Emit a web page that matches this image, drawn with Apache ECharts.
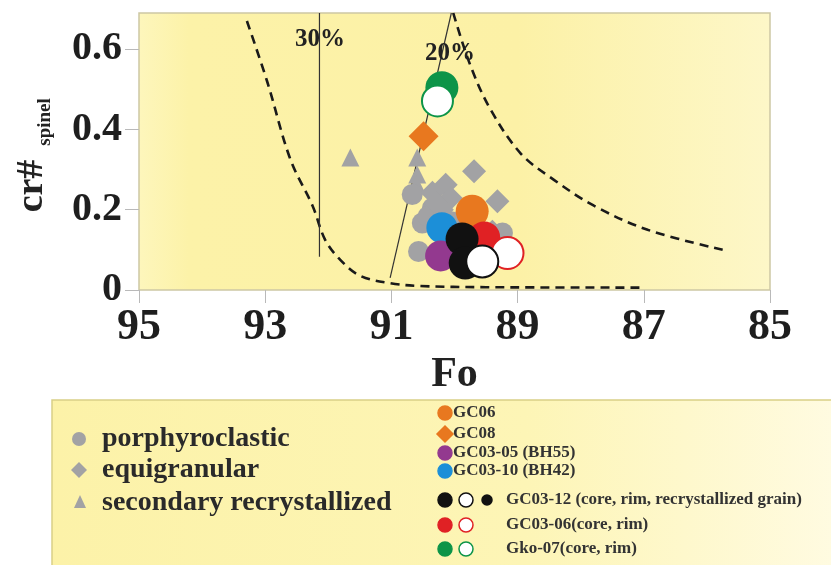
<!DOCTYPE html>
<html>
<head>
<meta charset="utf-8">
<script src="https://cdn.jsdelivr.net/npm/echarts@6/dist/echarts.min.js"></script>
<style>
  html, body { margin: 0; padding: 0; background: #ffffff; }
  #chart { width: 831px; height: 565px; }
</style>
</head>
<body>
<div id="chart"></div>
<script>
// Fo (olivine forsterite) vs cr# of spinel
const foTicks = [95, 93, 91, 89, 87, 85];
const crTicks = [0, 0.2, 0.4, 0.6];

// Gray texture groups: [Fo, cr#]
const porphyroclastic = [[90.67, 0.238], [90.51, 0.167], [90.57, 0.096], [90.35, 0.204], [90.42, 0.183], [89.24, 0.142], [90.05, 0.170]];
const equigranular = [[89.69, 0.296], [90.14, 0.262], [90.06, 0.229], [90.35, 0.242], [89.32, 0.221], [90.20, 0.200], [90.28, 0.215], [89.40, 0.145]];
const secondaryRecryst = [[91.65, 0.330], [90.59, 0.330], [90.59, 0.288], [90.60, 0.262]];

// Individual samples
const gc06 = [[89.72, 0.196]];
const gc08 = [[90.49, 0.383]];
const gc0305 = [[90.22, 0.085]];
const gc0310 = [[90.20, 0.155]];
const gc0312Core = [[89.88, 0.127], [89.83, 0.067]];
const gc0312Rim = [[89.56, 0.071]];
const gc0306Core = [[89.53, 0.131]];
const gc0306Rim = [[89.16, 0.092]];
const gko07Core = [[90.20, 0.504]];
const gko07Rim = [[90.27, 0.471]];

// Melting-model curves
const curveLeft = [[93.29, 0.67], [92.97, 0.52], [92.60, 0.325], [92.25, 0.21], [92.05, 0.125], [91.81, 0.075], [91.49, 0.035], [91.02, 0.017], [90.54, 0.010], [89.50, 0.007], [87.05, 0.006]];
const curveRight = [[90.02, 0.69], [89.75, 0.56], [89.43, 0.45], [88.95, 0.34], [88.43, 0.275], [87.79, 0.21], [86.94, 0.15], [85.75, 0.10]];
const melt30 = [[92.14, 0.69], [92.14, 0.083]];
const melt20 = [[91.02, 0.030], [90.05, 0.69]];

const SERIF = '"Liberation Serif", "Times New Roman", serif';
const GRAY = '#a2a2a4';
const ORANGE = '#e8781f';
const PURPLE = '#93398f';
const BLUE = '#1c8fd8';
const RED = '#e02124';
const GREEN = '#0d9448';
const BLACK = '#111111';

const chart = echarts.init(document.getElementById('chart'), null, { renderer: 'canvas' });

function pts(name, data, symbol, size, fill, border, bw, z) {
  return {
    name: name, type: 'scatter', data: data, symbol: symbol, symbolSize: size, z: z,
    itemStyle: { color: fill, borderColor: border || fill, borderWidth: bw || 0, opacity: 1 },
    emphasis: { disabled: true }
  };
}
function line(name, data, dashed, smooth) {
  return {
    name: name, type: 'line', data: data, symbol: 'none', smooth: smooth ? 0.35 : false, z: 1,
    lineStyle: dashed ? { color: '#1a1a1a', width: 2.6, type: [9, 6] } : { color: '#333333', width: 1.2 },
    emphasis: { disabled: true }, clip: true
  };
}

const legendBg = new echarts.graphic.LinearGradient(0, 0, 1, 0, [
  { offset: 0, color: '#fcf2a8' }, { offset: 0.6, color: '#fdf5b6' }, { offset: 1, color: '#fffbe2' }
]);

const leftLegend = [
  { label: 'porphyroclastic', sym: 'circle', y: 439 },
  { label: 'equigranular', sym: 'diamond', y: 470 },
  { label: 'secondary recrystallized', sym: 'triangle', y: 503 }
];
const rightLegend = [
  { label: 'GC06', marks: [['circle', ORANGE, ORANGE]], y: 413, tx: 453 },
  { label: 'GC08', marks: [['diamond', ORANGE, ORANGE]], y: 434, tx: 453 },
  { label: 'GC03-05 (BH55)', marks: [['circle', PURPLE, PURPLE]], y: 453, tx: 453 },
  { label: 'GC03-10 (BH42)', marks: [['circle', BLUE, BLUE]], y: 471, tx: 453 },
  { label: 'GC03-12 (core, rim, recrystallized grain)', marks: [['circle', BLACK, BLACK], ['circle', '#ffffff', BLACK], ['small', BLACK, BLACK]], y: 500, tx: 506 },
  { label: 'GC03-06(core, rim)', marks: [['circle', RED, RED], ['circle', '#ffffff', RED]], y: 525, tx: 506 },
  { label: 'Gko-07(core, rim)', marks: [['circle', GREEN, GREEN], ['circle', '#ffffff', GREEN]], y: 549, tx: 506 }
];

const graphics = [];
graphics.push({ type: 'rect', shape: { x: 52, y: 400, width: 790, height: 170 }, style: { fill: legendBg, stroke: '#d9cf86', lineWidth: 1.5 }, z: 0 });
leftLegend.forEach(function (it) {
  let shape;
  if (it.sym === 'circle') shape = { type: 'circle', shape: { cx: 79, cy: it.y, r: 7 } };
  else if (it.sym === 'diamond') shape = { type: 'polygon', shape: { points: [[79, it.y - 8], [87, it.y], [79, it.y + 8], [71, it.y]] } };
  else shape = { type: 'polygon', shape: { points: [[80, it.y - 8], [86, it.y + 5], [74, it.y + 5]] } };
  shape.style = { fill: GRAY };
  shape.z = 5;
  graphics.push(shape);
  graphics.push({ type: 'text', x: 102, y: it.y, z: 5, style: { text: it.label, font: 'bold 28px ' + SERIF, fill: '#2a2a2a', verticalAlign: 'middle' } });
});
rightLegend.forEach(function (it) {
  it.marks.forEach(function (m, i) {
    const cx = 445 + i * 21;
    let el;
    if (m[0] === 'diamond') el = { type: 'polygon', shape: { points: [[cx, it.y - 8], [cx + 8, it.y], [cx, it.y + 8], [cx - 8, it.y]] } };
    else if (m[0] === 'small') el = { type: 'circle', shape: { cx: cx, cy: it.y, r: 5 } };
    else el = { type: 'circle', shape: { cx: cx, cy: it.y, r: 7 } };
    el.style = { fill: m[1], stroke: m[2], lineWidth: 1.5 };
    el.z = 5;
    graphics.push(el);
  });
  graphics.push({ type: 'text', x: it.tx, y: it.y, z: 5, style: { text: it.label, font: 'bold 17px ' + SERIF, fill: '#333333', verticalAlign: 'middle' } });
});
// melt-percentage labels and the y-axis title
graphics.push({ type: 'text', x: 320, y: 40, z: 6, style: { text: '30%', font: 'bold 25px ' + SERIF, fill: '#222', align: 'center', verticalAlign: 'middle' } });
graphics.push({ type: 'text', x: 450, y: 54, z: 6, style: { text: '20%', font: 'bold 25px ' + SERIF, fill: '#222', align: 'center', verticalAlign: 'middle' } });
graphics.push({ type: 'text', x: 32, y: 186, rotation: Math.PI / 2, z: 6, style: { text: 'cr#', font: 'bold 38px ' + SERIF, fill: '#222', align: 'center', verticalAlign: 'middle' } });
graphics.push({ type: 'text', x: 45, y: 122, rotation: Math.PI / 2, z: 6, style: { text: 'spinel', font: 'bold 19px ' + SERIF, fill: '#222', align: 'center', verticalAlign: 'middle' } });

const plotBg = new echarts.graphic.LinearGradient(0, 0, 1, 0, [
  { offset: 0, color: '#fdf6bc' }, { offset: 0.08, color: '#fcf2a8' }, { offset: 0.6, color: '#fcf1a6' }, { offset: 1, color: '#fdf7c8' }
]);

chart.setOption({
  animation: false,
  backgroundColor: '#ffffff',
  grid: { left: 139, right: 61, top: 13, bottom: 275, show: true, backgroundColor: plotBg, borderColor: '#cdc7a4', borderWidth: 1.5 },
  xAxis: {
    type: 'value', min: 85, max: 95, interval: 2, inverse: true,
    name: 'Fo', nameLocation: 'middle', nameGap: 64,
    nameTextStyle: { fontFamily: SERIF, fontWeight: 'bold', fontSize: 42, color: '#222' },
    axisLine: { show: false },
    axisTick: { show: true, length: 13, lineStyle: { color: '#b9b9b9', width: 1 } },
    axisLabel: { fontFamily: SERIF, fontWeight: 'bold', fontSize: 44, color: '#1e1e1e', margin: 16,
      formatter: function (v) { return foTicks.indexOf(v) >= 0 ? String(v) : ''; } },
    splitLine: { show: false }
  },
  yAxis: {
    type: 'value', min: 0, max: 0.69,
    axisLine: { show: false },
    axisTick: { show: true, length: 14, customValues: crTicks, lineStyle: { color: '#b9b9b9', width: 1 } },
    axisLabel: { fontFamily: SERIF, fontWeight: 'bold', fontSize: 40, color: '#1e1e1e', margin: 17, customValues: crTicks,
      formatter: function (v) { return v === 0 ? '0' : v.toFixed(1); } },
    splitLine: { show: false }
  },
  graphic: graphics,
  series: [
    line('curveLeft', curveLeft, true, true),
    line('curveRight', curveRight, true, true),
    line('30%', melt30, false, false),
    line('20%', melt20, false, false),
    pts('secondary recrystallized', secondaryRecryst, 'triangle', 18, GRAY, null, 0, 2),
    pts('porphyroclastic', porphyroclastic, 'circle', 21, GRAY, null, 0, 2),
    pts('equigranular', equigranular, 'diamond', [24, 24], GRAY, null, 0, 2),
    pts('GC06', gc06, 'circle', 33, ORANGE, null, 0, 3),
    pts('GC03-10 (BH42)', gc0310, 'circle', 31, BLUE, null, 0, 3),
    pts('GC03-05 (BH55)', gc0305, 'circle', 31, PURPLE, null, 0, 3),
    pts('GC03-06 core', gc0306Core, 'circle', 32, RED, null, 0, 4),
    pts('GC03-12 core', gc0312Core, 'circle', 33, BLACK, null, 0, 5),
    pts('GC03-06 rim', gc0306Rim, 'circle', 32, '#ffffff', RED, 2, 6),
    pts('GC03-12 rim', gc0312Rim, 'circle', 32, '#ffffff', BLACK, 2, 7),
    pts('GC08', gc08, 'diamond', [30, 30], ORANGE, null, 0, 3),
    pts('Gko-07 core', gko07Core, 'circle', 33, GREEN, null, 0, 4),
    pts('Gko-07 rim', gko07Rim, 'circle', 31, '#ffffff', GREEN, 2, 5)
  ]
});
</script>
</body>
</html>
